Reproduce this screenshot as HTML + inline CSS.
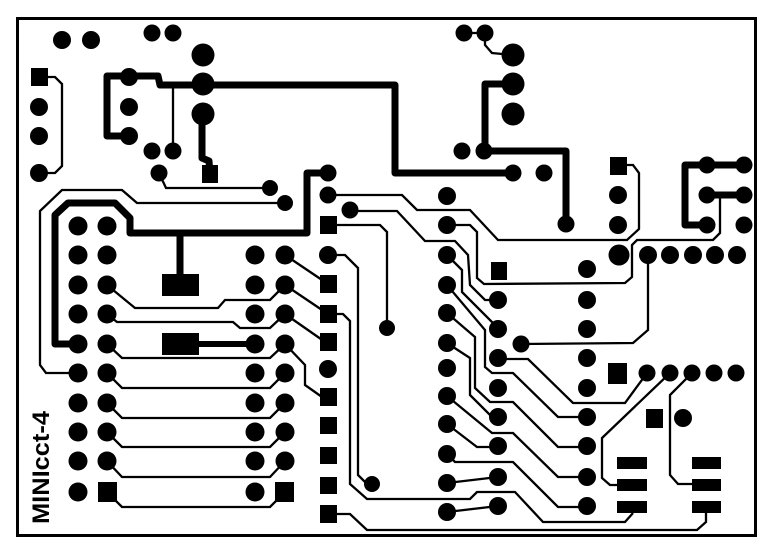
<!DOCTYPE html>
<html><head><meta charset="utf-8"><style>
html,body{margin:0;padding:0;background:#fff;}
svg{display:block;}
</style></head><body>
<svg width="780" height="555" viewBox="0 0 780 555" xmlns="http://www.w3.org/2000/svg">
<rect x="0" y="0" width="780" height="555" fill="#fff"/>
<rect x="17.5" y="18.5" width="738" height="517" fill="none" stroke="#000" stroke-width="3"/>

<!-- thick tracks -->
<g fill="none" stroke="#000" stroke-width="7" stroke-linejoin="round" stroke-linecap="round">
<polyline points="129,136 107,136 107,76 158,76 160,85 395,85 395,173 513,173"/>
<polyline points="513,84 485,84 485,151 566,151 566,222"/>
<polyline points="202,113 202,158 209,161 210,173"/>
<polyline points="328,173 307,173 307,233 130,233 130,218 115,203 68,203 55,215 55,344 78,344"/>
<polyline points="180,233 180,276"/>
<polyline points="744,165 685,165 685,225 707,225"/>
<polyline points="707,195 744,195"/>
</g>
<line x1="195" y1="344" x2="255" y2="344" stroke="#000" stroke-width="6"/>

<!-- thin tracks -->
<g fill="none" stroke="#000" stroke-width="2.3" stroke-linejoin="miter">
<polyline points="39,77 55,77 62,84 62,166 55,173 39,173"/>
<polyline points="173,84 173,151"/>
<polyline points="159,173 166,188 270,188"/>
<polyline points="285,203 137,203 122,190 62,190 40,211 40,365 46,373 78,373"/>
<polyline points="464,33 485,33 485,45 492,53 513,55"/>
<polyline points="328,195 402,195 417,210 470,210 498,240 627,240 639,229 639,173 633,165 618,165"/>
<polyline points="350,211 397,211 425,241 455,241 468,255 470,285 485,300 498,300"/>
<polyline points="328,225 380,225 387,232 387,328"/>
<polyline points="447,225 470,225 477,232 477,278 484,284 625,283 632,277 632,245 637,240 713,240 720,233 720,195"/>
<polyline points="521,344 633,343 648,330 648,255"/>
<polyline points="447,255 462,270 462,292 492,322 498,329"/>
<polyline points="447,285 485,330 485,367 492,373 513,373 558,417 587,417"/>
<polyline points="447,313 475,337 475,388 490,402 513,402 558,447 587,447"/>
<polyline points="498,359 528,359 573,403 625,403 647,373"/>
<polyline points="447,343 470,358 470,395 492,417 498,417"/>
<polyline points="447,396 492,433 513,433 558,477 587,477"/>
<polyline points="447,424 477,447 498,447"/>
<polyline points="447,454 455,462 513,462 558,507 587,507"/>
<polyline points="447,483 498,477"/>
<polyline points="447,512 498,506"/>
<polyline points="328,314 343,314 350,321 350,484 367,499 470,499 477,492 515,492 543,522 625,522 633,513"/>
<polyline points="328,514 350,514 367,530 697,530 706,522 706,510"/>
<polyline points="328,255 345,255 358,268 358,475 367,484 372,484"/>
<polyline points="670,373 602,438 602,478 610,485 620,485"/>
<polyline points="692,373 670,395 670,475 678,484 695,484"/>
<!-- left grid to right grid -->
<polyline points="107,285 135,308 218,308 225,300 270,300 285,285"/>
<polyline points="107,314 117,322 233,322 240,328 270,328 285,314"/>
<polyline points="107,344 122,358 270,358 285,344"/>
<polyline points="107,373 122,388 270,388 285,373"/>
<polyline points="107,403 122,418 270,418 285,403"/>
<polyline points="107,432 122,447 270,447 285,432"/>
<polyline points="107,461 122,477 270,477 285,461"/>
<polyline points="107,492 122,507 270,507 285,492"/>
<polyline points="285,255 328,284"/>
<polyline points="285,285 328,314"/>
<polyline points="285,314 328,344"/>
<polyline points="285,344 305,365 305,385 322,397"/>
</g>

<!-- pads -->
<g fill="#000">
<circle cx="62" cy="40" r="9"/><circle cx="91" cy="40" r="9"/>
<circle cx="152" cy="33" r="8.5"/><circle cx="173" cy="33" r="8.5"/>
<circle cx="203" cy="55" r="11.5"/><circle cx="203" cy="84" r="11.5"/><circle cx="203" cy="114" r="11.5"/>
<rect x="31" y="68" width="17" height="18"/>
<circle cx="39" cy="107" r="9"/><circle cx="39" cy="136" r="9"/><circle cx="39" cy="173" r="9"/>
<circle cx="129" cy="77" r="9"/><circle cx="129" cy="107" r="9"/><circle cx="129" cy="136" r="9"/>
<circle cx="152" cy="151" r="8.5"/><circle cx="173" cy="151" r="8.5"/>
<circle cx="159" cy="173" r="8.5"/>
<rect x="202" y="165" width="16" height="18"/>
<circle cx="270" cy="188" r="8"/><circle cx="285" cy="203" r="8"/>
<circle cx="328" cy="173" r="8.5"/><circle cx="328" cy="195" r="8.5"/><circle cx="350" cy="210" r="8.5"/>
<rect x="162" y="274" width="37" height="22"/>
<rect x="162" y="333" width="37" height="22"/>
<circle cx="464" cy="33" r="8.5"/><circle cx="485" cy="33" r="8.5"/>
<circle cx="513" cy="55" r="11.5"/><circle cx="513" cy="84" r="11.5"/><circle cx="513" cy="114" r="11.5"/>
<circle cx="462" cy="151" r="8.5"/><circle cx="484" cy="151" r="8.5"/>
<circle cx="513" cy="173" r="8.5"/><circle cx="544" cy="173" r="8.5"/>
<circle cx="566" cy="224" r="8.5"/>
<rect x="610" y="157" width="17" height="18"/>
<circle cx="618" cy="195" r="9"/><circle cx="618" cy="225" r="9"/>
<circle cx="707" cy="165" r="8.5"/><circle cx="744" cy="165" r="8.5"/>
<circle cx="707" cy="195" r="8.5"/><circle cx="744" cy="195" r="8.5"/>
<circle cx="707" cy="225" r="8.5"/><circle cx="744" cy="225" r="8.5"/>
<circle cx="619" cy="255" r="10.5"/><circle cx="648" cy="255" r="9"/><circle cx="670" cy="255" r="9"/>
<circle cx="693" cy="255" r="9"/><circle cx="715" cy="255" r="9"/><circle cx="737" cy="255" r="9"/>
<rect x="608" y="363" width="19" height="21"/>
<circle cx="647" cy="373" r="8.5"/><circle cx="670" cy="373" r="8.5"/><circle cx="692" cy="373" r="8.5"/>
<circle cx="714" cy="373" r="8.5"/><circle cx="736" cy="373" r="8.5"/>
<rect x="646" y="409" width="17" height="19"/>
<circle cx="683" cy="418" r="9"/>
<rect x="617" y="457" width="30" height="12"/><rect x="617" y="479" width="30" height="12"/><rect x="617" y="501" width="30" height="12"/>
<rect x="692" y="457" width="29" height="12"/><rect x="692" y="479" width="29" height="12"/><rect x="692" y="501" width="29" height="12"/>

<!-- left grid -->
<circle cx="78" cy="226" r="9.5"/><circle cx="107" cy="226" r="9.5"/>
<circle cx="78" cy="255" r="9.5"/><circle cx="107" cy="255" r="9.5"/>
<circle cx="78" cy="285" r="9.5"/><circle cx="107" cy="285" r="9.5"/>
<circle cx="78" cy="314" r="9.5"/><circle cx="107" cy="314" r="9.5"/>
<circle cx="78" cy="344" r="9.5"/><circle cx="107" cy="344" r="9.5"/>
<circle cx="78" cy="373" r="9.5"/><circle cx="107" cy="373" r="9.5"/>
<circle cx="78" cy="403" r="9.5"/><circle cx="107" cy="403" r="9.5"/>
<circle cx="78" cy="432" r="9.5"/><circle cx="107" cy="432" r="9.5"/>
<circle cx="78" cy="461" r="9.5"/><circle cx="107" cy="461" r="9.5"/>
<circle cx="78" cy="492" r="9.5"/><rect x="98" y="482" width="19" height="20"/>
<!-- right grid -->
<circle cx="255" cy="255" r="9.5"/><circle cx="285" cy="255" r="9.5"/>
<circle cx="255" cy="285" r="9.5"/><circle cx="285" cy="285" r="9.5"/>
<circle cx="255" cy="314" r="9.5"/><circle cx="285" cy="314" r="9.5"/>
<circle cx="255" cy="344" r="9.5"/><circle cx="285" cy="344" r="9.5"/>
<circle cx="255" cy="373" r="9.5"/><circle cx="285" cy="373" r="9.5"/>
<circle cx="255" cy="403" r="9.5"/><circle cx="285" cy="403" r="9.5"/>
<circle cx="255" cy="432" r="9.5"/><circle cx="285" cy="432" r="9.5"/>
<circle cx="255" cy="461" r="9.5"/><circle cx="285" cy="461" r="9.5"/>
<circle cx="255" cy="492" r="9.5"/><rect x="275" y="482" width="19" height="20"/>
<!-- column 328 -->
<rect x="320" y="216" width="17" height="18"/>
<circle cx="328" cy="255" r="9"/>
<rect x="320" y="275" width="17" height="18"/>
<rect x="320" y="305" width="17" height="18"/>
<rect x="320" y="333" width="17" height="18"/>
<circle cx="328" cy="369" r="9"/>
<rect x="320" y="388" width="17" height="18"/>
<rect x="320" y="417" width="17" height="17"/>
<rect x="320" y="447" width="17" height="17"/>
<rect x="320" y="477" width="17" height="17"/>
<rect x="320" y="505" width="17" height="18"/>
<!-- middle column 447 -->
<circle cx="447" cy="196" r="9"/><circle cx="447" cy="225" r="9"/><circle cx="447" cy="255" r="9"/>
<circle cx="447" cy="285" r="9"/><circle cx="447" cy="313" r="9"/><circle cx="447" cy="343" r="9"/>
<circle cx="447" cy="368" r="9"/><circle cx="447" cy="396" r="9"/><circle cx="447" cy="424" r="9"/>
<circle cx="447" cy="454" r="9"/><circle cx="447" cy="483" r="9"/><circle cx="447" cy="512" r="9"/>
<circle cx="387" cy="328" r="8"/><circle cx="372" cy="484" r="8"/>
<!-- column 498 -->
<rect x="491" y="262" width="16" height="18"/>
<circle cx="498" cy="300" r="9"/><circle cx="498" cy="329" r="9"/><circle cx="498" cy="358" r="9"/>
<circle cx="498" cy="388" r="9"/><circle cx="498" cy="417" r="9"/><circle cx="498" cy="446" r="9"/>
<circle cx="498" cy="477" r="9"/><circle cx="498" cy="506" r="9"/>
<circle cx="521" cy="344" r="8.5"/>
<!-- column 587 -->
<circle cx="587" cy="269" r="9"/><circle cx="587" cy="300" r="9"/><circle cx="587" cy="329" r="9"/>
<circle cx="587" cy="358" r="9"/><circle cx="587" cy="388" r="9"/><circle cx="587" cy="417" r="9"/>
<circle cx="587" cy="446" r="9"/><circle cx="587" cy="477" r="9"/><circle cx="587" cy="506" r="9"/>
</g>

<text x="0" y="0" transform="translate(49,524) rotate(-90)" font-family="Liberation Sans, sans-serif" font-weight="bold" font-size="24" textLength="113" lengthAdjust="spacingAndGlyphs" fill="#000">MINIcct-4</text>
</svg>
</body></html>
